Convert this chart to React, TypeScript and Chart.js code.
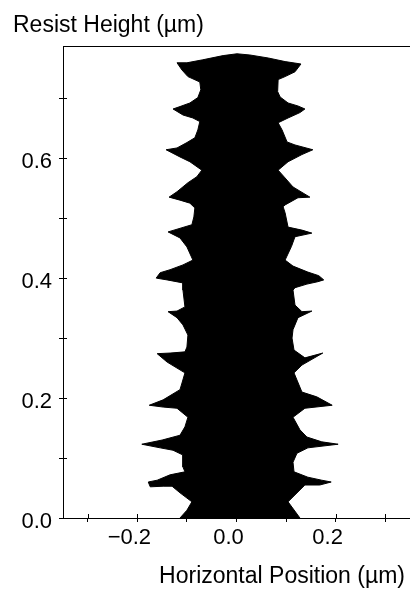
import React, { useEffect, useRef } from 'react';
import { Chart, registerables } from 'chart.js';

Chart.register(...registerables);

// Resist profile: right edge (bottom -> top), µm
const rightEdgeX = [
  0.128, 0.104, 0.138, 0.168, 0.191, 0.172, 0.144, 0.116, 0.114, 0.122,
  0.144, 0.205, 0.172, 0.142, 0.128, 0.114, 0.138, 0.193, 0.162, 0.132,
  0.122, 0.116, 0.132, 0.174, 0.138, 0.116, 0.112, 0.114, 0.124, 0.152,
  0.132, 0.118, 0.114, 0.118, 0.142, 0.164, 0.176, 0.166, 0.144, 0.114,
  0.098, 0.111, 0.118, 0.152, 0.132, 0.104, 0.098, 0.094, 0.098, 0.124,
  0.148, 0.114, 0.098, 0.084, 0.104, 0.132, 0.154, 0.118, 0.102, 0.092,
  0.084, 0.104, 0.128, 0.138, 0.124, 0.104, 0.088, 0.083, 0.084, 0.098,
  0.118, 0.130, 0.098, 0.064, 0.027, 0.001,
];
const rightEdgeY = [
  0.0, 0.027, 0.055, 0.055, 0.060, 0.063, 0.068, 0.077, 0.093, 0.108,
  0.117, 0.123, 0.127, 0.135, 0.147, 0.168, 0.183, 0.188, 0.202, 0.210,
  0.230, 0.242, 0.255, 0.275, 0.267, 0.280, 0.300, 0.314, 0.334, 0.345,
  0.344, 0.355, 0.380, 0.384, 0.390, 0.394, 0.397, 0.404, 0.410, 0.420,
  0.430, 0.453, 0.469, 0.475, 0.480, 0.485, 0.509, 0.519, 0.522, 0.534,
  0.535, 0.552, 0.567, 0.580, 0.594, 0.606, 0.614, 0.622, 0.627, 0.647,
  0.659, 0.667, 0.676, 0.682, 0.687, 0.692, 0.702, 0.711, 0.731, 0.736,
  0.744, 0.757, 0.761, 0.767, 0.772, 0.774,
];

// Resist profile: left edge (top -> bottom), µm
const leftEdgeX = [
  -0.027, -0.068, -0.100, -0.120, -0.110, -0.098, -0.074, -0.072, -0.078, -0.094,
  -0.114, -0.128, -0.108, -0.088, -0.074, -0.078, -0.084, -0.100, -0.120, -0.142,
  -0.114, -0.094, -0.070, -0.080, -0.098, -0.120, -0.136, -0.114, -0.094, -0.084,
  -0.086, -0.090, -0.110, -0.138, -0.114, -0.100, -0.088, -0.108, -0.134, -0.154,
  -0.162, -0.140, -0.108, -0.108, -0.104, -0.120, -0.138, -0.120, -0.108, -0.098,
  -0.100, -0.104, -0.134, -0.160, -0.140, -0.120, -0.104, -0.110, -0.114, -0.148,
  -0.176, -0.148, -0.120, -0.098, -0.104, -0.114, -0.150, -0.191, -0.154, -0.128,
  -0.108, -0.108, -0.104, -0.134, -0.160, -0.178, -0.174, -0.148, -0.130, -0.114,
  -0.090, -0.100, -0.114,
];
const leftEdgeY = [
  0.771, 0.764, 0.759, 0.759, 0.747, 0.736, 0.727, 0.714, 0.701, 0.692,
  0.686, 0.682, 0.672, 0.667, 0.661, 0.647, 0.634, 0.626, 0.617, 0.614,
  0.602, 0.594, 0.580, 0.569, 0.559, 0.544, 0.535, 0.530, 0.525, 0.517,
  0.502, 0.489, 0.484, 0.477, 0.467, 0.452, 0.430, 0.422, 0.414, 0.409,
  0.400, 0.397, 0.392, 0.380, 0.352, 0.345, 0.344, 0.334, 0.322, 0.305,
  0.285, 0.277, 0.275, 0.274, 0.260, 0.250, 0.242, 0.225, 0.214, 0.197,
  0.188, 0.185, 0.183, 0.168, 0.152, 0.138, 0.130, 0.123, 0.117, 0.113,
  0.105, 0.085, 0.077, 0.072, 0.063, 0.060, 0.052, 0.053, 0.053, 0.042,
  0.027, 0.013, 0.0,
];

const xTickValues = [-0.3, -0.2, -0.1, 0.0, 0.1, 0.2, 0.3];
const xTickLabels = ['', '\u22120.2', '', '0.0', '', '0.2', ''];
const yTickValues = [0.0, 0.1, 0.2, 0.3, 0.4, 0.5, 0.6, 0.7];
const yTickLabels = ['0.0', '', '0.2', '', '0.4', '', '0.6', ''];
const xAxisTitle = 'Horizontal Position (\u00b5m)';
const yAxisTitle = 'Resist Height (\u00b5m)';

const FONT = '"Liberation Sans", Arial, Helvetica, sans-serif';

const decorPlugin = {
  id: 'decor',
  afterDraw(chart: any) {
    const { ctx, chartArea: a, scales } = chart;
    ctx.save();
    ctx.strokeStyle = '#000';
    ctx.lineWidth = 1;
    // top frame line
    ctx.beginPath();
    ctx.moveTo(a.left, a.top + 0.5);
    ctx.lineTo(a.right, a.top + 0.5);
    ctx.stroke();
    // inner tick marks (ticks cross the axes)
    ctx.beginPath();
    for (const v of yTickValues) {
      const y = Math.round(scales.y.getPixelForValue(v)) + 0.5;
      ctx.moveTo(a.left, y);
      ctx.lineTo(a.left + 4, y);
    }
    for (const v of xTickValues) {
      const x = Math.round(scales.x.getPixelForValue(v)) + 0.5;
      ctx.moveTo(x, a.bottom);
      ctx.lineTo(x, a.bottom - 4);
    }
    ctx.stroke();
    // axis titles
    ctx.fillStyle = '#000';
    ctx.font = `23px ${FONT}`;
    ctx.textBaseline = 'alphabetic';
    ctx.textAlign = 'left';
    ctx.fillText(yAxisTitle, 13, 32);
    ctx.textAlign = 'right';
    ctx.fillText(xAxisTitle, 405, 583);
    ctx.restore();
  },
};

export default function App() {
  const ref = useRef<HTMLCanvasElement>(null);
  useEffect(() => {
    const polygon = [
      ...rightEdgeX.map((x, i) => ({ x, y: rightEdgeY[i] })),
      ...leftEdgeX.map((x, i) => ({ x, y: leftEdgeY[i] })),
    ];
    const chart = new Chart(ref.current as HTMLCanvasElement, {
      type: 'line',
      data: {
        datasets: [
          {
            data: polygon,
            fill: 'shape',
            backgroundColor: '#000',
            borderColor: '#000',
            borderWidth: 1,
            pointRadius: 0,
            tension: 0,
          } as any,
        ],
      },
      options: {
        animation: false,
        responsive: false,
        devicePixelRatio: 1,
        layout: { padding: { top: 46, left: 0, right: 0, bottom: 0 } },
        plugins: { legend: { display: false }, tooltip: { enabled: false }, title: { display: false } },
        scales: {
          x: {
            type: 'linear',
            min: -0.35,
            max: 0.35,
            afterBuildTicks: (s: any) => {
              s.ticks = xTickValues.map((v) => ({ value: v }));
            },
            afterFit: (s: any) => {
              s.height = 71;
            },
            ticks: {
              callback: (_v: any, i: number) => xTickLabels[i],
              font: { family: FONT, size: 22 },
              color: '#000',
              padding: 3,
              labelOffset: -8,
              maxRotation: 0,
              autoSkip: false,
            },
            grid: { drawOnChartArea: false, drawTicks: true, tickLength: 4, color: '#000' },
            border: { display: true, color: '#000', width: 1 },
          },
          y: {
            type: 'linear',
            min: 0,
            max: 0.787,
            afterBuildTicks: (s: any) => {
              s.ticks = yTickValues.map((v) => ({ value: v }));
            },
            afterFit: (s: any) => {
              s.width = 63;
            },
            ticks: {
              callback: (_v: any, i: number) => yTickLabels[i],
              font: { family: FONT, size: 22 },
              color: '#000',
              padding: 7,
              labelOffset: 4,
              autoSkip: false,
            },
            grid: { drawOnChartArea: false, drawTicks: true, tickLength: 4, color: '#000' },
            border: { display: true, color: '#000', width: 1 },
          },
        },
      } as any,
      plugins: [decorPlugin],
    });
    return () => chart.destroy();
  }, []);
  return (
    <div style={{ position: 'absolute', left: 0, top: 0, width: 410, height: 589, background: '#fff' }}>
      <canvas ref={ref} width={410} height={589} style={{ display: 'block' }} />
    </div>
  );
}
